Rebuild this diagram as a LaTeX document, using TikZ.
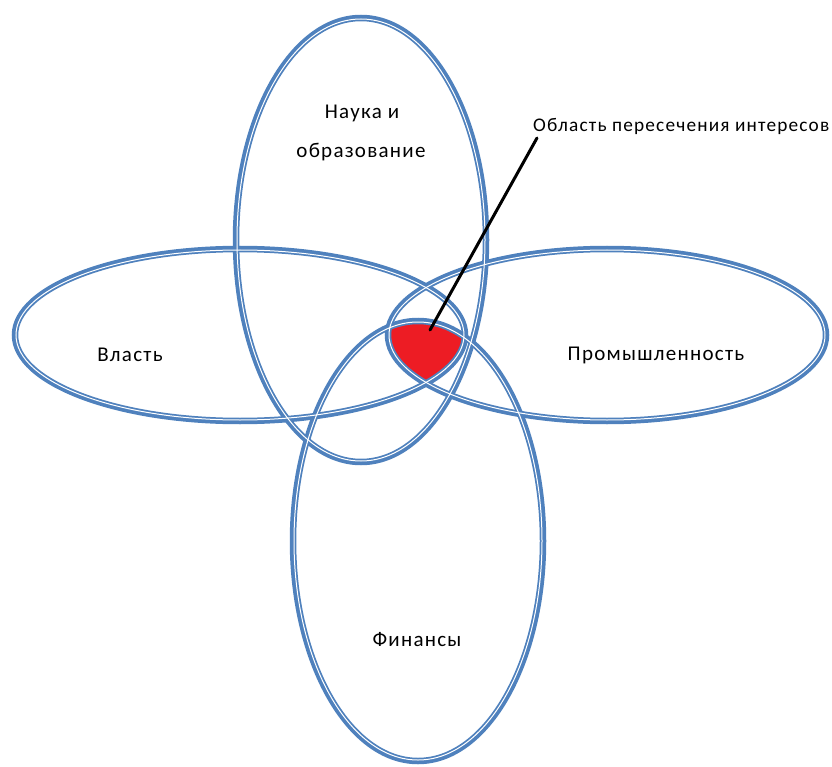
\documentclass[tikz,border=0pt]{standalone}
\usepackage{fontspec}
\setmainfont{Carlito}[LetterSpace=6]
\definecolor{ringblue}{HTML}{4F81BD}
\definecolor{hotred}{HTML}{ED1C24}
\begin{document}
\begin{tikzpicture}[x=1pt,y=-1pt,
  ring/.style={draw=ringblue,line width=6.5pt},
  gap/.style={draw=white,line width=1pt},
  lbl/.style={font=\fontsize{21}{25}\selectfont,inner sep=0pt,text=black},
  smalllbl/.style={font=\fontsize{19.3}{23}\selectfont,inner sep=0pt,text=black}]
\useasboundingbox (0,0) rectangle (832,767);
% red intersection
\begin{scope}
  \clip (361,240) ellipse [x radius=125, y radius=222];
  \clip (240,335) ellipse [x radius=225, y radius=86];
  \clip (607,335) ellipse [x radius=219, y radius=86];
  \clip (418,541) ellipse [x radius=125, y radius=220];
  \fill[hotred] (0,0) rectangle (832,767);
\end{scope}
% rings
\draw[ring] (361,240) ellipse [x radius=125, y radius=222];
\draw[ring] (240,335) ellipse [x radius=225, y radius=86];
\draw[ring] (607,335) ellipse [x radius=219, y radius=86];
\draw[ring] (418,541) ellipse [x radius=125, y radius=220];
\draw[gap] (361,240) ellipse [x radius=124, y radius=221];
\draw[gap] (240,335) ellipse [x radius=224, y radius=85];
\draw[gap] (607,335) ellipse [x radius=218, y radius=85];
\draw[gap] (418,541) ellipse [x radius=124, y radius=219];
% labels
\node[lbl] (nauka) at (362,113) {Наука и};
\node[lbl] (obraz) at (361,152) {образование};
\node[lbl] (vlast) at (130,355) {Власть};
\node[lbl] (prom) at (656,355) {Промышленность};
\node[lbl] (fin) at (417,640) {Финансы};
\node[smalllbl,anchor=west] (obl) at (533,126) {Область пересечения интересов};
% pointer
\coordinate (ptrstart) at (537,138);
\coordinate (ptrtip) at (430,330);
\draw[black,line width=3pt,line cap=round] (ptrstart) -- (ptrtip);
\end{tikzpicture}
\end{document}
